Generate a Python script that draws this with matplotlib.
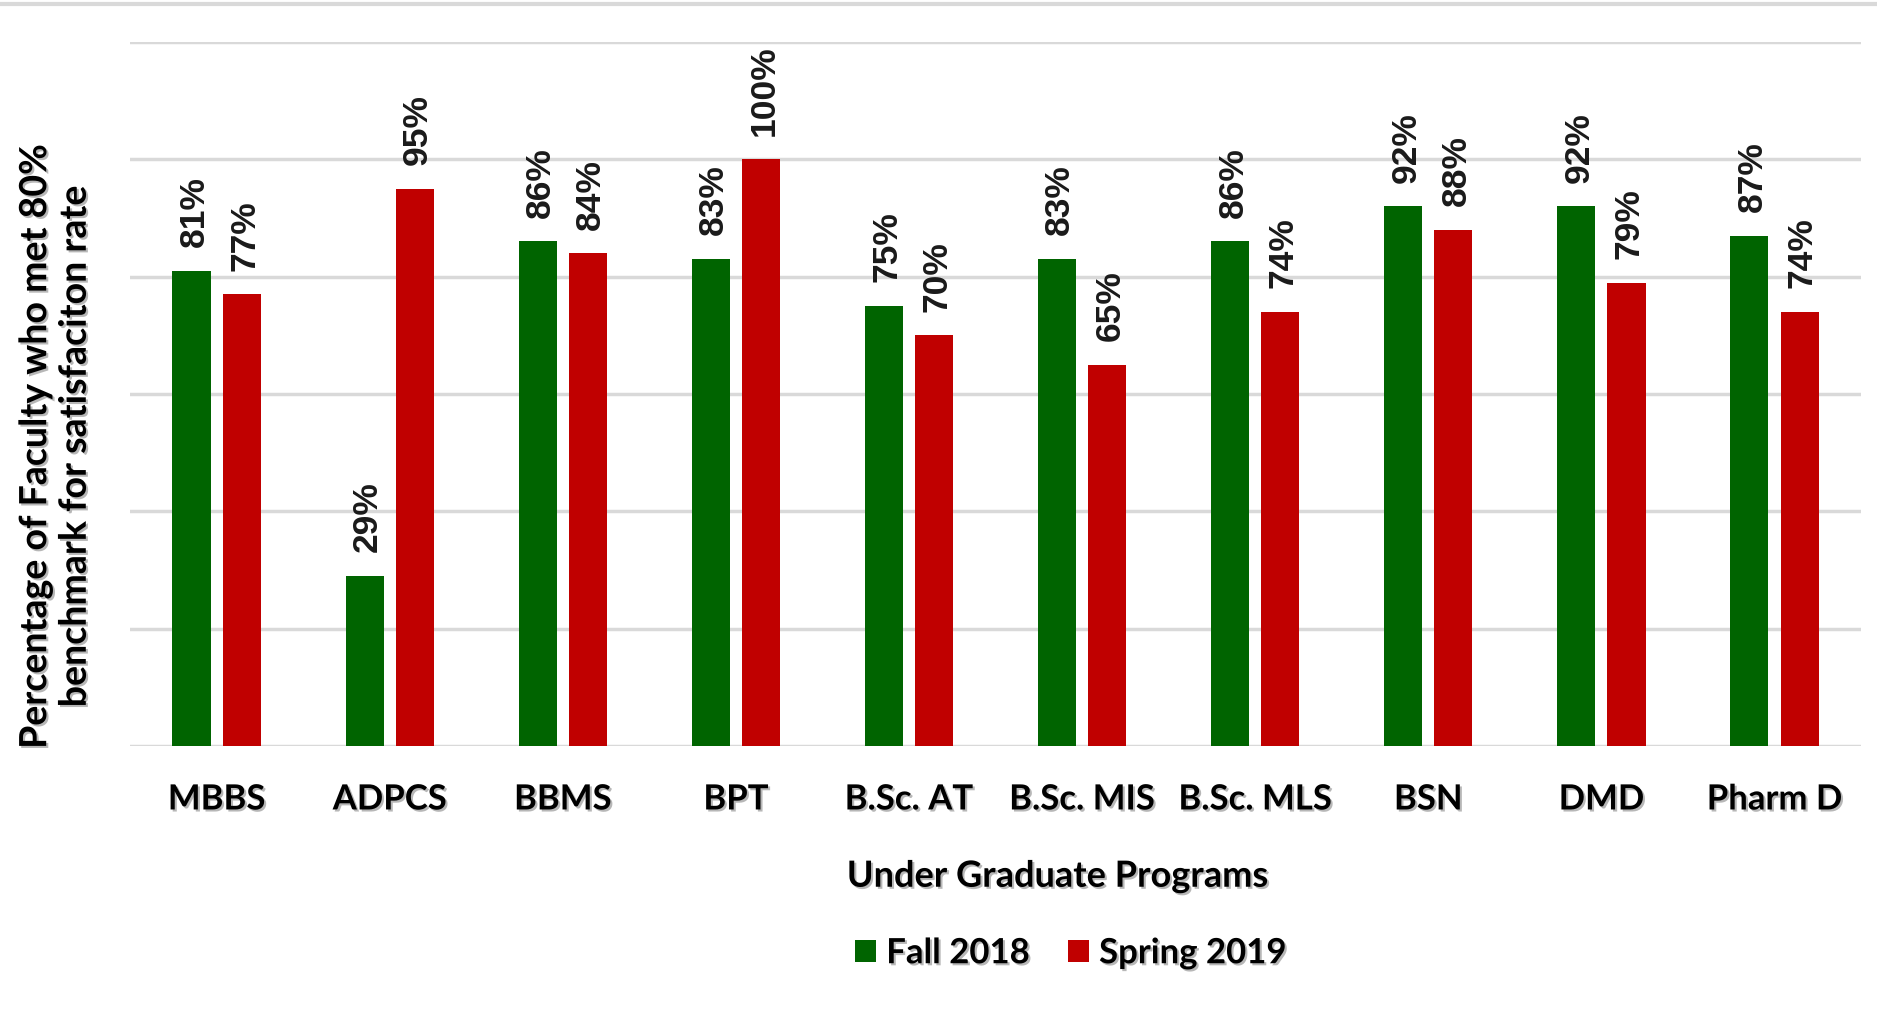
import matplotlib
matplotlib.use("Agg")
import matplotlib.pyplot as plt
import matplotlib.patheffects as pe
import numpy as np

programs = ['MBBS', 'ADPCS', 'BBMS', 'BPT', 'B.Sc. AT', 'B.Sc. MIS',
            'B.Sc. MLS', 'BSN', 'DMD', 'Pharm D']
fall_2018 = [81, 29, 86, 83, 75, 83, 86, 92, 92, 87]
spring_2019 = [77, 95, 84, 100, 70, 65, 74, 88, 79, 74]

green = '#006400'
red = '#C00000'
grid_col = '#d9d9d9'

shadow = [pe.SimplePatchShadow(offset=(1.5, -1.5), shadow_rgbFace='#888888', alpha=0.6),
          pe.Normal()]

fig = plt.figure(figsize=(18.77, 10.13), dpi=100)
ax = fig.add_axes([0.0693, 0.2636, 0.9222, 0.6949])

x = np.arange(len(programs))
w = 0.22
off = 0.145
b1 = ax.bar(x - off, fall_2018, w, color=green, label='Fall 2018', zorder=3)
b2 = ax.bar(x + off, spring_2019, w, color=red, label='Spring 2019', zorder=3)

for bars, vals in ((b1, fall_2018), (b2, spring_2019)):
    for b, v in zip(bars, vals):
        ax.annotate(f'{v}%', (b.get_x() + b.get_width() / 2, v),
                    xytext=(2, 17), textcoords='offset points',
                    rotation=90, ha='center', va='bottom',
                    fontsize=25.5, fontweight='bold', family='Liberation Sans',
                    color='#1a1a1a')

ax.set_xlim(-0.5, len(programs) - 0.5)
ax.set_ylim(0, 120)
ax.set_yticks(np.arange(0, 121, 20))
ax.set_yticklabels([])
ax.yaxis.grid(True, color=grid_col, linewidth=2.5, zorder=0)
ax.tick_params(axis='y', length=0)
ax.tick_params(axis='x', length=0, pad=27)
for s in ax.spines.values():
    s.set_visible(False)

ax.set_xticks(x)
ax.set_xticklabels(programs, fontsize=25, fontweight='bold', family='Lato')
for t in ax.get_xticklabels():
    t.set_path_effects(shadow)

fig.text(0.5635, 0.135, 'Under Graduate Programs', ha='center', va='center',
         fontsize=26, fontweight='bold', family='Lato', path_effects=shadow)
fig.text(0.0293, 0.559, 'Percentage of Faculty who met 80%\nbenchmark for satisfaciton rate',
         rotation=90, ha='center', va='center', linespacing=1.2,
         fontsize=27, fontweight='bold', family='Lato', path_effects=shadow)

leg = fig.legend(handles=[b1, b2], loc='center', bbox_to_anchor=(0.5705, 0.059),
                 ncol=2, frameon=False, handlelength=0.6,
                 handleheight=0.6, handletextpad=0.3, columnspacing=1.1,
                 prop={'family': 'Lato', 'weight': 'bold', 'size': 25})
for t in leg.get_texts():
    t.set_path_effects(shadow)

fig.add_artist(plt.Line2D([0, 1], [0.996, 0.996], color=grid_col, linewidth=3))

fig.savefig('out.png', dpi=100)
